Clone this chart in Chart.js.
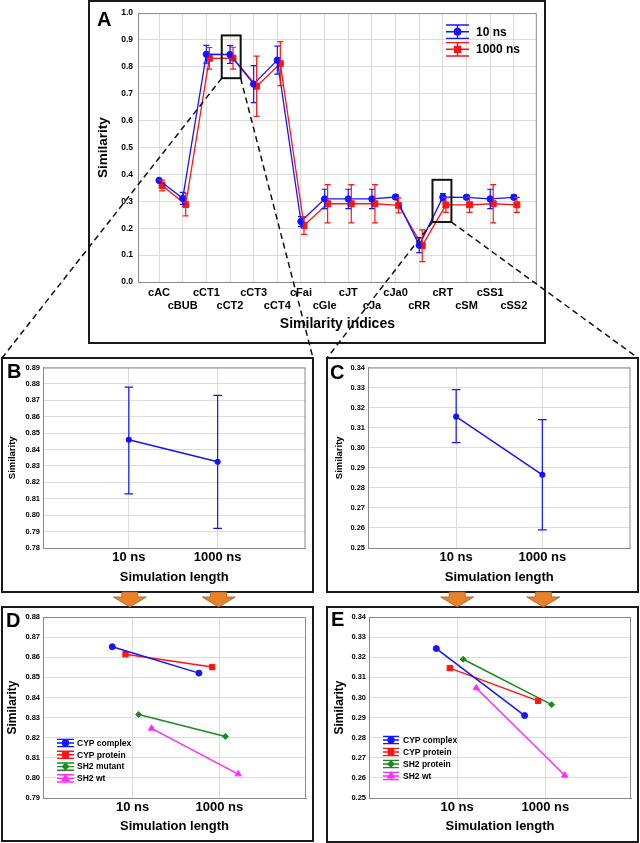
<!DOCTYPE html>
<html>
<head>
<meta charset="utf-8">
<script src="https://cdn.jsdelivr.net/npm/chart.js@4.4.1/dist/chart.umd.min.js"></script>
<style>
  body { margin: 0; background: #fff; }
  #page { position: relative; width: 640px; height: 843px; overflow: hidden; background: #fff; }
  .box { position: absolute; border: 2px solid #1a1a1a; box-sizing: border-box; background: #fff; }
  canvas.chart { position: absolute; }
  .letter { position: absolute; font: bold 20px "Liberation Sans", Arial, sans-serif; line-height: 1; color: #000; }
  #overlay { position: absolute; left: 0; top: 0; pointer-events: none; }
</style>
</head>
<body>
<div id="page">
  <div class="box" style="left:88px;top:0;width:458px;height:344px"></div>
  <div class="box" style="left:1px;top:357px;width:313px;height:236px"></div>
  <div class="box" style="left:326px;top:357px;width:313px;height:236px"></div>
  <div class="box" style="left:1px;top:606px;width:313px;height:236px"></div>
  <div class="box" style="left:326px;top:606px;width:313px;height:237px"></div>

  <canvas class="chart" id="chartA" width="452" height="338" style="left:90px;top:3px"></canvas>
  <canvas class="chart" id="chartB" width="307" height="230" style="left:4px;top:360px"></canvas>
  <canvas class="chart" id="chartC" width="307" height="230" style="left:329px;top:360px"></canvas>
  <canvas class="chart" id="chartD" width="307" height="230" style="left:4px;top:609px"></canvas>
  <canvas class="chart" id="chartE" width="307" height="231" style="left:329px;top:609px"></canvas>

  <div class="letter" style="left:97px;top:9px">A</div>
  <div class="letter" style="left:7px;top:361px">B</div>
  <div class="letter" style="left:330px;top:362px">C</div>
  <div class="letter" style="left:6px;top:610px">D</div>
  <div class="letter" style="left:331px;top:609px">E</div>

  <canvas id="overlay" width="640" height="843"></canvas>
</div>
<script>
// panel A: similarity per index, two simulation lengths
const indexLabels = ["cAC", "cBUB", "cCT1", "cCT2", "cCT3", "cCT4", "cFai", "cGle", "cJT", "cJa", "cJa0", "cRR", "cRT", "cSM", "cSS1", "cSS2"];
const sim10ns = [0.378, 0.311, 0.847, 0.846, 0.736, 0.825, 0.225, 0.309, 0.309, 0.309, 0.316, 0.137, 0.3155, 0.315, 0.309, 0.315];
const err10ns = [0.005, 0.022, 0.033, 0.033, 0.069, 0.052, 0.018, 0.036, 0.036, 0.036, 0.008, 0.028, 0.0135, 0.008, 0.036, 0.008];
const sim1000ns = [0.359, 0.288, 0.832, 0.8325, 0.728, 0.812, 0.21, 0.291, 0.291, 0.291, 0.285, 0.135, 0.2865, 0.287, 0.291, 0.287];
const err1000ns = [0.02, 0.042, 0.04, 0.0405, 0.112, 0.082, 0.033, 0.071, 0.071, 0.071, 0.028, 0.059, 0.0275, 0.028, 0.071, 0.028];

// panels B and C: zoom on cCT2 and cRT
const lengthLabels = ["10 ns", "1000 ns"];
const ct2Mean = [0.846, 0.8325];
const ct2Low = [0.813, 0.792];
const ct2High = [0.878, 0.873];
const rtMean = [0.3155, 0.2865];
const rtLow = [0.3025, 0.259];
const rtHigh = [0.329, 0.314];

// panels D and E: per system
const dGroups = ["CYP complex", "CYP protein", "SH2 mutant", "SH2 wt"];
const dValues10 = [0.8652, 0.8615, 0.8315, 0.8246];
const dValues1000 = [0.8521, 0.8551, 0.8206, 0.8019];
const eGroups = ["CYP complex", "CYP protein", "SH2 protein", "SH2 wt"];
const eValues10 = [0.3243, 0.3146, 0.319, 0.3047];
const eValues1000 = [0.291, 0.2983, 0.2964, 0.2613];

const FONT = '"Liberation Sans", Arial, sans-serif';
const BLUE = "#1414ff";
const RED = "#ff1414";
const gridColor = "#dcdcdc";
const frameColor = "#8a8a8a";
const groupColors = [BLUE, RED, "#1c8a1c", "#ff2bff"];
const groupStyles = ["circle", "rect", "rectRot", "triangle"];
const groupRadius = [3, 3.8, 3, 3.6];
const groupShift = [-0.235, -0.082, 0.07, 0.218];
const shift1000A = 0.127;

const framePlugin = {
  id: "frame",
  beforeDatasetsDraw(chart) {
    const { ctx, chartArea: a } = chart;
    ctx.save();
    ctx.strokeStyle = frameColor;
    ctx.lineWidth = 1;
    ctx.strokeRect(a.left + 0.5, a.top + 0.5, a.right - a.left - 1, a.bottom - a.top);
    ctx.restore();
  }
};

const errorBarPlugin = {
  id: "errorBars",
  afterDatasetsDraw(chart) {
    const { ctx, scales: { x, y } } = chart;
    chart.data.datasets.forEach((ds) => {
      if (!ds.errLow) return;
      ctx.save();
      ctx.strokeStyle = ds.borderColor;
      ctx.lineWidth = 1.2;
      ds.data.forEach((pt, j) => {
        const px = x.getPixelForValue(pt.x);
        const top = y.getPixelForValue(ds.errHigh[j]);
        const bot = y.getPixelForValue(ds.errLow[j]);
        const c = ds.capHalf;
        ctx.beginPath();
        ctx.moveTo(px, top);
        ctx.lineTo(px, bot);
        ctx.moveTo(px - c, top);
        ctx.lineTo(px + c, top);
        ctx.moveTo(px - c, bot);
        ctx.lineTo(px + c, bot);
        ctx.stroke();
      });
      ctx.restore();
    });
  }
};

const legendPlugin = {
  id: "boxLegend",
  afterDraw(chart, args, opts) {
    if (!opts.show) return;
    const ctx = chart.ctx;
    chart.data.datasets.forEach((ds, i) => {
      const cy = opts.y + i * opts.gap;
      const x0 = opts.x;
      const x1 = opts.x + opts.w;
      const cx = (x0 + x1) / 2;
      ctx.save();
      ctx.strokeStyle = ds.borderColor;
      ctx.fillStyle = ds.borderColor;
      ctx.lineWidth = opts.lineWidth;
      ctx.beginPath();
      [-opts.cap, 0, opts.cap].forEach((d) => {
        ctx.moveTo(x0, cy + d);
        ctx.lineTo(x1, cy + d);
      });
      ctx.moveTo(cx, cy - opts.cap);
      ctx.lineTo(cx, cy + opts.cap);
      ctx.stroke();
      Chart.helpers.drawPoint(ctx, { pointStyle: ds.pointStyle, rotation: 0, radius: ds.pointRadius, borderWidth: 1 }, cx, cy);
      ctx.fillStyle = "#000";
      ctx.font = `bold ${opts.size}px ${FONT}`;
      ctx.textBaseline = "middle";
      ctx.fillText(ds.label, opts.textX, cy + 0.5);
      ctx.restore();
    });
  }
};

function buildAxes(c) {
  return {
    x: {
      type: "linear",
      min: c.xMin,
      max: c.xMax,
      afterBuildTicks: (scale) => { scale.ticks = c.xTicks.map((v) => ({ value: v })); },
      afterFit: (scale) => { scale.height = c.xHeight; },
      grid: { color: gridColor, drawTicks: false },
      border: { color: frameColor },
      ticks: {
        autoSkip: false,
        maxRotation: 0,
        color: "#000",
        padding: c.xPad,
        font: { family: FONT, size: c.xFont, weight: "bold", lineHeight: c.xLine },
        callback: c.xLabel
      },
      title: {
        display: true,
        text: c.xTitle,
        color: "#000",
        padding: 0,
        font: { family: FONT, size: c.xTitleSize, weight: "bold" }
      }
    },
    y: {
      min: c.yMin,
      max: c.yMax,
      afterFit: (scale) => { scale.width = c.yWidth; },
      grid: { color: gridColor, drawTicks: false },
      border: { color: frameColor },
      ticks: {
        stepSize: c.yStep,
        color: "#000",
        padding: c.yPad,
        font: { family: FONT, size: c.yFont, weight: "bold" },
        callback: (v) => v.toFixed(c.yDigits)
      },
      title: {
        display: true,
        text: "Similarity",
        color: "#000",
        padding: { top: c.yTitlePad, bottom: 0 },
        font: { family: FONT, size: c.yTitleSize, weight: "bold" }
      }
    }
  };
}

function baseOptions(scales, padding, legend) {
  return {
    responsive: false,
    animation: false,
    events: [],
    layout: { padding },
    scales,
    plugins: {
      legend: { display: false },
      tooltip: { enabled: false },
      boxLegend: legend || { show: false }
    }
  };
}

const plugins = [framePlugin, errorBarPlugin, legendPlugin];

// ---- A
const xA = indexLabels.map((_, i) => i + 1);
const chartA = new Chart(document.querySelector("#chartA"), {
  type: "scatter",
  data: {
    datasets: [
      {
        label: "10 ns",
        data: xA.map((x, i) => ({ x, y: sim10ns[i] })),
        showLine: true,
        borderColor: BLUE,
        backgroundColor: BLUE,
        borderWidth: 1.3,
        pointStyle: "circle",
        pointRadius: 3.2,
        pointBorderWidth: 1,
        errLow: sim10ns.map((v, i) => v - err10ns[i]),
        errHigh: sim10ns.map((v, i) => v + err10ns[i]),
        capHalf: 3
      },
      {
        label: "1000 ns",
        data: xA.map((x, i) => ({ x: x + shift1000A, y: sim1000ns[i] })),
        showLine: true,
        borderColor: RED,
        backgroundColor: RED,
        borderWidth: 1.3,
        pointStyle: "rect",
        pointRadius: 4.2,
        pointBorderWidth: 1,
        errLow: sim1000ns.map((v, i) => v - err1000ns[i]),
        errHigh: sim1000ns.map((v, i) => v + err1000ns[i]),
        capHalf: 3
      }
    ]
  },
  options: baseOptions(
    buildAxes({
      xMin: 0.11, xMax: 16.97, xTicks: xA, xHeight: 51, xPad: 4, xFont: 11, xLine: 1.2,
      xLabel: (v) => (v % 2 === 0 ? ["", indexLabels[v - 1]] : indexLabels[v - 1]),
      xTitle: "Similarity indices", xTitleSize: 14,
      yMin: 0, yMax: 1, yStep: 0.1, yDigits: 1, yWidth: 48, yPad: 5, yFont: 8.5,
      yTitlePad: 5, yTitleSize: 13.5
    }),
    { left: 0, right: 5, top: 9, bottom: 8 },
    { show: true, x: 356, y: 28.7, gap: 17.6, w: 23, cap: 6.7, size: 12, textX: 386, lineWidth: 1.4 }
  ),
  plugins
});

// ---- B and C
function zoomChart(canvasId, mean, low, high, axes, padding) {
  return new Chart(document.querySelector(canvasId), {
    type: "scatter",
    data: {
      datasets: [{
        label: "mean",
        data: mean.map((v, i) => ({ x: i + 1, y: v })),
        showLine: true,
        borderColor: BLUE,
        backgroundColor: BLUE,
        borderWidth: 1.5,
        pointRadius: 2.3,
        errLow: low,
        errHigh: high,
        capHalf: 4.3
      }]
    },
    options: baseOptions(buildAxes(axes), padding),
    plugins
  });
}

const lengthAxis = {
  xTicks: [1, 2], xHeight: 37, xPad: 2, xFont: 13, xLine: 1.2,
  xLabel: (v) => lengthLabels[v - 1],
  xTitle: "Simulation length", xTitleSize: 13,
  yStep: 0.01, yDigits: 2, yPad: 3, yFont: 7.5
};

const chartB = zoomChart("#chartB", ct2Mean, ct2Low, ct2High,
  { ...lengthAxis, xMin: 0.034, xMax: 2.989, yMin: 0.78, yMax: 0.89, yWidth: 39, yTitlePad: 2.5, yTitleSize: 9.5 },
  { left: 0, right: 5, top: 7, bottom: 5 });

const chartC = zoomChart("#chartC", rtMean, rtLow, rtHigh,
  { ...lengthAxis, xMin: -0.023, xMax: 3.023, yMin: 0.25, yMax: 0.34, yWidth: 39, yTitlePad: 4.3, yTitleSize: 9.5 },
  { left: 0, right: 3, top: 7, bottom: 5 });

// ---- D and E
function groupChart(canvasId, groups, v10, v1000, axes, padding, legend) {
  return new Chart(document.querySelector(canvasId), {
    type: "scatter",
    data: {
      datasets: groups.map((name, i) => ({
        label: name,
        data: [
          { x: 1 + groupShift[i], y: v10[i] },
          { x: 2 + groupShift[i], y: v1000[i] }
        ],
        showLine: true,
        borderColor: groupColors[i],
        backgroundColor: groupColors[i],
        borderWidth: 1.5,
        pointStyle: groupStyles[i],
        pointRadius: groupRadius[i],
        pointBorderWidth: 1
      }))
    },
    options: baseOptions(buildAxes(axes), padding, legend),
    plugins
  });
}

groupChart("#chartD", dGroups, dValues10, dValues1000,
  { ...lengthAxis, xHeight: 36, xMin: -0.034, xMax: 3.0, yMin: 0.79, yMax: 0.88, yWidth: 39, yTitlePad: 1.5, yTitleSize: 12 },
  { left: 0, right: 4, top: 8, bottom: 5 },
  { show: true, x: 53, y: 134, gap: 11.8, w: 17, cap: 3.6, size: 8.5, textX: 73, lineWidth: 1.4 });

groupChart("#chartE", eGroups, eValues10, eValues1000,
  { ...lengthAxis, xHeight: 36, xMin: 0.003, xMax: 2.969, yMin: 0.25, yMax: 0.34, yWidth: 40, yTitlePad: 3.3, yTitleSize: 12 },
  { left: 0, right: 3, top: 8, bottom: 6 },
  { show: true, x: 54, y: 131, gap: 12, w: 16, cap: 3.6, size: 8.5, textX: 74, lineWidth: 1.4 });

// ---- zoom boxes, dashed connectors and arrows
const zoomRegions = [
  { x0: 3.65, x1: 4.45, y0: 0.758, y1: 0.917, to: [[2, 358], [313, 358]] },
  { x0: 12.56, x1: 13.36, y0: 0.223, y1: 0.38, to: [[327, 358], [638, 358]] }
];

const overlay = document.querySelector("#overlay").getContext("2d");
const offA = { x: 90, y: 3 };
zoomRegions.forEach((z) => {
  const l = offA.x + chartA.scales.x.getPixelForValue(z.x0);
  const r = offA.x + chartA.scales.x.getPixelForValue(z.x1);
  const t = offA.y + chartA.scales.y.getPixelForValue(z.y1);
  const b = offA.y + chartA.scales.y.getPixelForValue(z.y0);
  overlay.save();
  overlay.strokeStyle = "#111";
  overlay.lineWidth = 2;
  overlay.strokeRect(l, t, r - l, b - t);
  overlay.setLineDash([6, 4]);
  overlay.lineWidth = 1.5;
  overlay.beginPath();
  overlay.moveTo(l, b);
  overlay.lineTo(z.to[0][0], z.to[0][1]);
  overlay.moveTo(r, b);
  overlay.lineTo(z.to[1][0], z.to[1][1]);
  overlay.stroke();
  overlay.restore();
});

function drawArrow(cx) {
  overlay.save();
  overlay.fillStyle = "#e8812c";
  overlay.strokeStyle = "#a85a18";
  overlay.lineWidth = 0.8;
  overlay.beginPath();
  overlay.moveTo(cx - 8, 592);
  overlay.lineTo(cx + 8, 592);
  overlay.lineTo(cx + 8, 597);
  overlay.lineTo(cx + 16.5, 597);
  overlay.lineTo(cx, 607);
  overlay.lineTo(cx - 16.5, 597);
  overlay.lineTo(cx - 8, 597);
  overlay.closePath();
  overlay.fill();
  overlay.stroke();
  overlay.restore();
}

[[chartB, 4], [chartC, 329]].forEach(([chart, left]) => {
  [1, 2].forEach((v) => drawArrow(left + chart.scales.x.getPixelForValue(v) + 1));
});
</script>
</body>
</html>
